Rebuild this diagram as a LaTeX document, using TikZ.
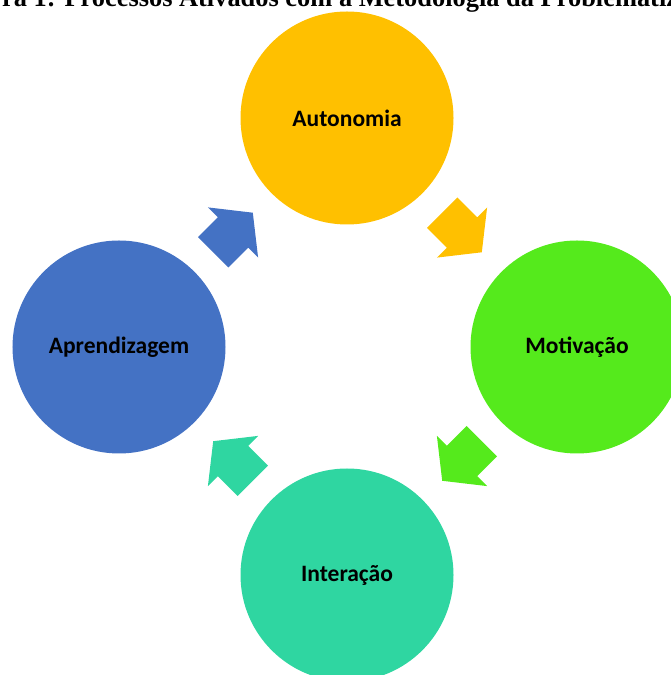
\documentclass[tikz,border=0pt]{standalone}
\usepackage{fontspec}
\setmainfont{Liberation Serif}
\newfontfamily\labelfont{Carlito}
\usepackage{tikz}
\usetikzlibrary{calc}

\definecolor{autcolor}{HTML}{FFC000}
\definecolor{motcolor}{HTML}{55EA1C}
\definecolor{intcolor}{HTML}{2FD6A1}
\definecolor{aprcolor}{HTML}{4472C4}

\tikzset{
  stage/.style={circle,minimum size=213bp,inner sep=0pt,
    font=\labelfont\bfseries\fontsize{23.6}{28}\selectfont},
  cyclearrow/.pic={\path[pic actions] (-28,-21.5) -- (0,-21.5) -- (0,-35.5) -- (28,0)
    -- (0,35.5) -- (0,21.5) -- (-28,21.5) -- cycle;}
}

\begin{document}
\begin{tikzpicture}[x=1bp,y=1bp]
      \useasboundingbox (0,0) rectangle (671,675);
      \clip (0,0) rectangle (671,675);
      \node[anchor=base west,inner sep=0pt,font=\bfseries\fontsize{26.5}{31}\selectfont] (t) at (2,668) {ra 1: Processos Ativados com a Metodologia da Problematiz};

      \node[stage,fill=autcolor] (aut) at (347,557) {Autonomia};
      \node[stage,fill=motcolor] (mot) at (577,328) {Motivação};
      \node[stage,fill=intcolor] (int) at (347,100) {Interação};
      \node[stage,fill=aprcolor] (apr) at (119,328) {Aprendizagem};

      %aut>mot>int>apr>aut
      \pic[fill=autcolor,rotate=-45] at ($(aut)!0.5!(mot)$) {cyclearrow};
      \pic[fill=motcolor,rotate=-135] at ($(mot)!0.5!(int)$) {cyclearrow};
      \pic[fill=intcolor,rotate=135] at ($(int)!0.5!(apr)$) {cyclearrow};
      \pic[fill=aprcolor,rotate=45] at ($(apr)!0.5!(aut)$) {cyclearrow};
    \end{tikzpicture}
\end{document}
